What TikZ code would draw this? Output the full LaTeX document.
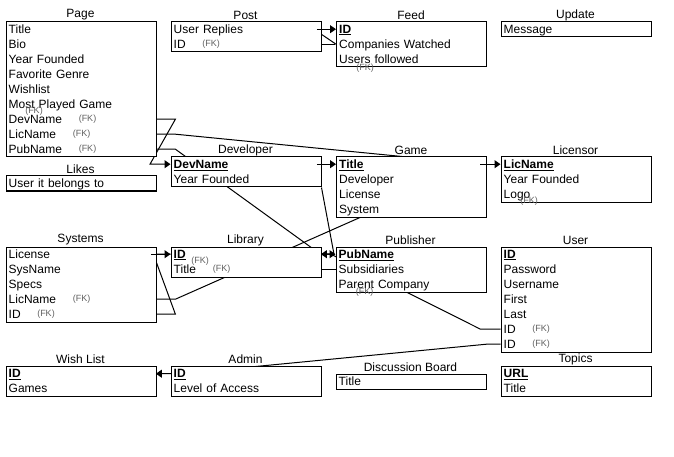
\documentclass[tikz,border=0pt]{standalone}
\usepackage{fontspec}
\setmainfont{Liberation Sans}
\usetikzlibrary{arrows.meta,backgrounds}

% primary-key field: bold and underlined
\newcommand\keyfield[1]{\textbf{\underline{#1}}}

% entity table: name, left, top, title, rows, number of rows
\newcommand\erbox[6]{%
  \node[tablebox, minimum height={15*#6}] (#1) at (#2,#3) {};
  \node[tabletitle] (#1-t) at ({#2+75},{#3-6.5}) {#4};
  \foreach \rowtext [count=\k] in {#5} {%
    \node[tablerow] (#1-r\k) at (#2,{#3+15*(\k-1)}) {\rowtext};
  }%
}

\tikzset{
  tablebox/.style={draw, line width=1pt, fill=white, anchor=north west,
    minimum width=150, inner sep=0pt},
  tabletitle/.style={font=\fontsize{12}{14}\selectfont, inner sep=0pt},
  tablerow/.style={anchor=north west, minimum width=150, minimum height=15,
    text width=144, inner xsep=3pt, inner ysep=0pt, align=left,
    text height=10pt, text depth=2pt, font=\fontsize{12}{14}\selectfont},
  fk/.style={font=\fontsize{9}{10}\selectfont, text=black!62, inner sep=0pt},
  rel/.style={line width=1pt},
  relarrow/.style={line width=1pt, -{Triangle[length=6pt,width=8pt]}},
}

\begin{document}
\begin{tikzpicture}[x=1pt, y=-1pt]
\useasboundingbox (0,0) rectangle (674,457);

% ---- tables ----
\erbox{page}{5.5}{21.5}{Page}{Title,Bio,Year Founded,Favorite Genre,Wishlist,Most Played Game,DevName,LicName,PubName}{9}
\erbox{post}{170.5}{21.5}{Post}{User Replies,ID}{2}
\erbox{feed}{336}{21.5}{Feed}{\keyfield{ID},Companies Watched,Users followed}{3}
\erbox{upd}{500.5}{21.5}{Update}{Message}{1}
\erbox{likes}{5.5}{175.5}{Likes}{User it belongs to}{1}
\erbox{dev}{170.5}{156.5}{Developer}{\keyfield{DevName},Year Founded}{2}
\erbox{game}{336}{156.5}{Game}{\keyfield{Title},Developer,License,System}{4}
\erbox{lic}{500.5}{156.5}{Licensor}{\keyfield{LicName},Year Founded,Logo}{3}
\erbox{sys}{5.5}{246.5}{Systems}{License,SysName,Specs,LicName,ID}{5}
\erbox{lib}{170.5}{246.5}{Library}{\keyfield{ID},Title}{2}
\erbox{pub}{335.5}{246.5}{Publisher}{\keyfield{PubName},Subsidiaries,Parent Company}{3}
\erbox{user}{500.5}{246.5}{User}{\keyfield{ID},Password,Username,First,Last,ID,ID}{7}
\erbox{wish}{5.5}{366}{Wish List}{\keyfield{ID},Games}{2}
\erbox{admin}{170.5}{366}{Admin}{\keyfield{ID},Level of Access}{2}
\erbox{disc}{335.5}{374}{Discussion Board}{Title}{1}
\erbox{topics}{500.5}{366}{Topics}{\keyfield{URL},Title}{2}

% ---- foreign-key markers ----
\node[fk] (page-fk0) at (34,111.5) {(FK)};
\node[fk] (page-fk1) at (87.5,119) {(FK)};
\node[fk] (page-fk2) at (81.5,134) {(FK)};
\node[fk] (page-fk3) at (87.5,149) {(FK)};
\node[fk] (post-fk1) at (211,44) {(FK)};
\node[fk] (feed-fk1) at (365,68) {(FK)};
\node[fk] (lic-fk1) at (529,201) {(FK)};
\node[fk] (lib-fk1) at (200,261.5) {(FK)};
\node[fk] (lib-fk2) at (221.5,269) {(FK)};
\node[fk] (sys-fk1) at (81.5,299) {(FK)};
\node[fk] (sys-fk2) at (46,314) {(FK)};
\node[fk] (pub-fk1) at (364.5,292.5) {(FK)};
\node[fk] (user-fk1) at (541,329) {(FK)};
\node[fk] (user-fk2) at (541,344) {(FK)};

% ---- relations, passing behind the tables ----
\begin{scope}[on background layer]
  \draw[relarrow] (page-r7.east) -- ++(19.5,0) -- ([xshift=-20.5]dev-r1.west) -- (dev-r1.west);
  \draw[rel] (page-r8.east) -- ++(19.5,0) -- ([xshift=-6]game-r1.east);
  \draw[relarrow] (page-r9.east) -- ++(19.5,0) -- ([xshift=-15]pub-r1.west) -- (pub-r1.west);
  \draw[rel] (sys-r4.east) -- ++(19.5,0) -- ([xshift=-6]game-r1.east);
  \draw[rel] (sys-r5.east) -- ++(19.5,0) -- ([xshift=-2.5]sys-r1.east) -- (lib-r1.west);
  \draw[rel] (lib-r1.east) -- ++(10,0) -- ([xshift=-20]user-r6.west) -- (user-r6.west);
  \draw[rel] (lib-r2.east) -- (pub-r2.west);
  \draw[rel] (post-r2.east) -- ([xshift=-1.5]feed-r2.west);
  \draw[rel] ([xshift=-7]post-r1.east) -- (feed-r2.west);
  \draw[relarrow] (user-r7.west) -- ++(-14,0) -- ([xshift=10.5]admin-r1.west) -- (wish-r1.east);
  \draw[relarrow] (dev.south east) -- ([xshift=-1.5]pub-r1.west) -- (lib-r1.east);
\end{scope}

% ---- short key links drawn over the tables ----
\draw[relarrow] ([xshift=-4]post-r1.east) -- (feed-r1.west);
\draw[relarrow] ([xshift=-4]dev-r1.east) -- (game-r1.west);
\draw[relarrow] ([xshift=-6]game-r1.east) -- (lic-r1.west);
\draw[relarrow] ([xshift=-5]sys-r1.east) -- (lib-r1.west);
\end{tikzpicture}
\end{document}
